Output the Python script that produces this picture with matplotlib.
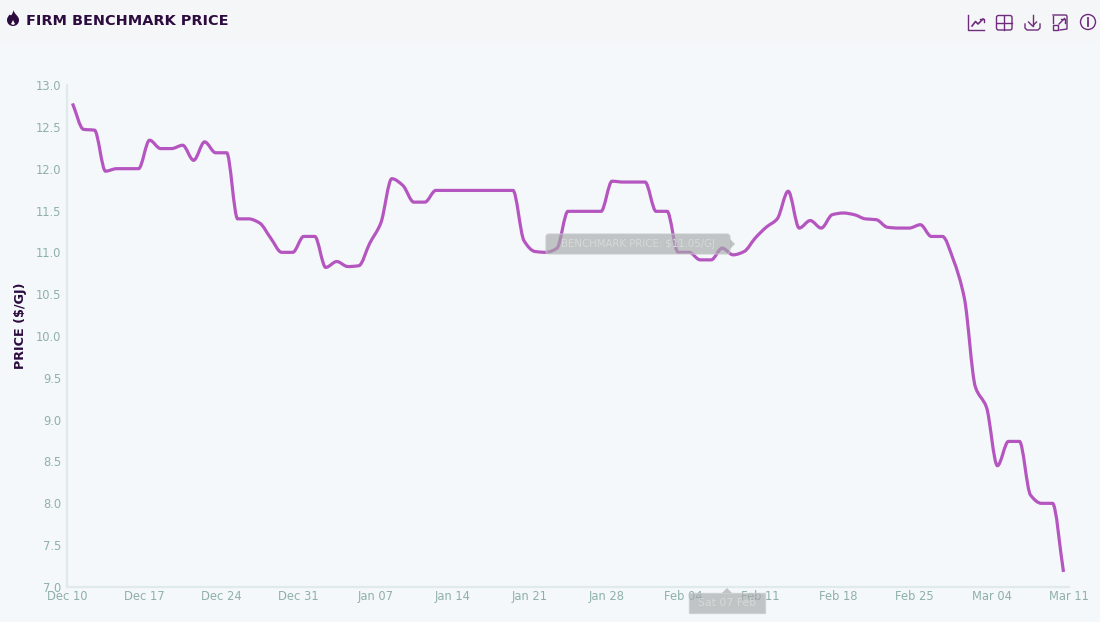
import matplotlib
matplotlib.use('Agg')
import matplotlib.pyplot as plt,numpy as np
from matplotlib.path import Path
from matplotlib.patches import PathPatch,Rectangle,FancyBboxPatch,Circle,Polygon

# Daily benchmark price, Dec 10 to Mar 10
price = [12.78,12.47,12.46,11.97,12.00,12.00,12.00,12.34,12.24,12.24,
         12.28,12.10,12.32,12.19,12.19,11.40,11.40,11.35,11.17,11.00,
         11.00,11.19,11.19,10.82,10.89,10.83,10.84,11.11,11.35,11.88,
         11.80,11.60,11.60,11.74,11.74,11.74,11.74,11.74,11.74,11.74,
         11.74,11.14,11.01,11.00,11.05,11.49,11.49,11.49,11.49,11.85,
         11.84,11.84,11.84,11.49,11.49,11.00,11.00,10.91,10.91,11.05,
         10.97,11.01,11.17,11.30,11.40,11.73,11.29,11.38,11.29,11.45,
         11.47,11.45,11.40,11.39,11.30,11.29,11.29,11.33,11.19,11.19,
         10.91,10.45,9.39,9.15,8.45,8.74,8.74,8.10,8.00,8.00,7.18]
x_labels = ['Dec 10','Dec 17','Dec 24','Dec 31','Jan 07','Jan 14','Jan 21',
            'Jan 28','Feb 04','Feb 11','Feb 18','Feb 25','Mar 04','Mar 11']
y_ticks = [7.0,7.5,8.0,8.5,9.0,9.5,10.0,10.5,11.0,11.5,12.0,12.5,13.0]

BODY = '#f4f8fb'
HEADER = '#f5f6f8'
AXIS = '#e0eaea'
TICK = '#8fb0a8'
DARK = '#2c0b3e'
LINE = '#b556c0'
ICON = '#6d2c7c'
FONT = 'DejaVu Sans'


# Monotone cubic through the points, as one bezier path
def smooth_path(x,y):
    x = np.asarray(x,float)
    y = np.asarray(y,float)
    h = np.diff(x)
    s = np.diff(y)/h
    m = np.zeros(len(y))
    for i in range(1,len(y)-1):
        if s[i-1]*s[i] > 0:
            m[i] = 2*s[i-1]*s[i]/(s[i-1]+s[i])
    m[0] = s[0]
    m[-1] = s[-1]
    verts = [(x[0],y[0])]
    codes = [Path.MOVETO]
    for i in range(len(h)):
        verts += [(x[i]+h[i]/3,y[i]+m[i]*h[i]/3),
                  (x[i+1]-h[i]/3,y[i+1]-m[i+1]*h[i]/3),
                  (x[i+1],y[i+1])]
        codes += [Path.CURVE4]*3
    return Path(verts,codes)


def draw_icons(ov):
    lw = 1.0
    # line chart
    ov.plot([968,968,984],[15,30,30],color=ICON,lw=lw)
    ov.plot([972,975.5,978,983],[26,21.5,24,19],color=ICON,lw=1.2)
    ov.plot([980,983.5,983.5],[19,19,22],color=ICON,lw=lw)
    # grid
    ov.add_patch(FancyBboxPatch((996.5,15.5),15.5,14.5,boxstyle='round,pad=0,rounding_size=2',
                                fill=False,ec=ICON,lw=lw))
    ov.plot([1004.2,1004.2],[15.5,30],color=ICON,lw=lw)
    ov.plot([996.5,1012],[22.5,22.5],color=ICON,lw=lw)
    # download
    ov.plot([1025,1025,1027,1038,1040,1040],[24,28,30,30,28,24],color=ICON,lw=lw)
    ov.plot([1032.5,1032.5],[15,26],color=ICON,lw=lw)
    ov.plot([1028.5,1032.5,1036.5],[22,26,22],color=ICON,lw=lw)
    # expand
    ov.plot([1053,1053],[23,16],color=ICON,lw=lw)
    ov.plot([1053,1066,1067,1067,1060],[15,15,16,29,30],color=ICON,lw=lw)
    ov.add_patch(Rectangle((1053,25),5,5,fill=False,ec=ICON,lw=lw))
    ov.plot([1059,1064.5],[24,18.5],color=ICON,lw=lw)
    ov.plot([1060.5,1064.5,1064.5],[18.5,18.5,22.5],color=ICON,lw=lw)
    # info
    ov.add_patch(Circle((1088,22),7.5,fill=False,ec=ICON,lw=lw))
    ov.plot([1088,1088],[21,26],color=ICON,lw=1.3)
    ov.plot([1088,1088],[17.5,19],color=ICON,lw=1.3)


def draw_flame(ov):
    verts = [(13.5,10),(14,14),(19,16),(19,20),(19,23.5),(16.5,26),(13,26),
             (9.5,26),(7,23.5),(7,20),(7,17.5),(9,15.5),(9.5,14.5),
             (11,16.5),(12.5,14.5),(13.5,10)]
    codes = [Path.MOVETO]+[Path.CURVE4]*15
    ov.add_patch(PathPatch(Path(verts,codes),fc=DARK,ec='none'))
    ov.add_patch(Polygon([(13,20),(15,24),(13,25),(11,24)],fc=HEADER,ec='none'))


def draw_tooltips(ov):
    grey = '#a6a9a9'
    pale = '#d6d9d9'
    ov.add_patch(FancyBboxPatch((546,234),184,20,boxstyle='round,pad=0,rounding_size=3',
                                fc=grey,ec='#c6c9c9',lw=1,alpha=0.65,zorder=5))
    ov.add_patch(Polygon([(730,239),(735,244),(730,249)],fc=grey,ec='none',alpha=0.65,zorder=5))
    ov.text(638,244,'BENCHMARK PRICE: $11.05/GJ',color=pale,fontsize=7.3,family=FONT,
            ha='center',va='center',zorder=6)
    ov.add_patch(Rectangle((689,593),76,20,fc=grey,ec='#c6c9c9',lw=1,alpha=0.65,zorder=5))
    ov.add_patch(Polygon([(722,593),(727,588),(732,593)],fc=grey,ec='none',alpha=0.65,zorder=5))
    ov.text(727,603.5,'Sat 07 Feb',color=pale,fontsize=7.8,family=FONT,
            ha='center',va='center',zorder=6)


fig = plt.figure(figsize=(11,6.22),dpi=100,facecolor=BODY)

ax = fig.add_axes([67/1100,(622-587)/622,1002/1100,502/622],facecolor='none')
days = np.arange(len(price))+0.5
ax.add_patch(PathPatch(smooth_path(days,price),fill=False,ec=LINE,lw=2.3,capstyle='butt'))
ax.set_xlim(0,len(price))
ax.set_ylim(7,13)

ax.set_xticks(np.arange(len(x_labels))*7)
ax.set_xticklabels(x_labels)
ax.set_yticks(y_ticks)
ax.set_yticklabels(['%.1f' % v for v in y_ticks])
ax.tick_params(length=0,labelsize=8.3,labelcolor=TICK,labelfontfamily=FONT)
ax.tick_params(axis='x',pad=2)
ax.tick_params(axis='y',pad=4)
for s in ['top','right']:
    ax.spines[s].set_visible(False)
for s in ['left','bottom']:
    ax.spines[s].set_color(AXIS)
    ax.spines[s].set_linewidth(1.6)

# Overlay in pixel coordinates for header, icons and tooltips
ov = fig.add_axes([0,0,1,1],facecolor='none')
ov.set_xlim(0,1100)
ov.set_ylim(622,0)
ov.axis('off')
ov.add_patch(Rectangle((0,0),1100,42,fc=HEADER,ec='none'))
ov.text(26,21,'FIRM BENCHMARK PRICE',color=DARK,fontsize=10.4,family=FONT,
        fontweight='bold',ha='left',va='center')
ov.text(21,326,'PRICE ($/GJ)',color=DARK,fontsize=9.2,family=FONT,fontweight='bold',
        rotation=90,ha='center',va='center')
draw_flame(ov)
draw_icons(ov)
draw_tooltips(ov)

fig.savefig('out.png',dpi=100,facecolor=BODY)
